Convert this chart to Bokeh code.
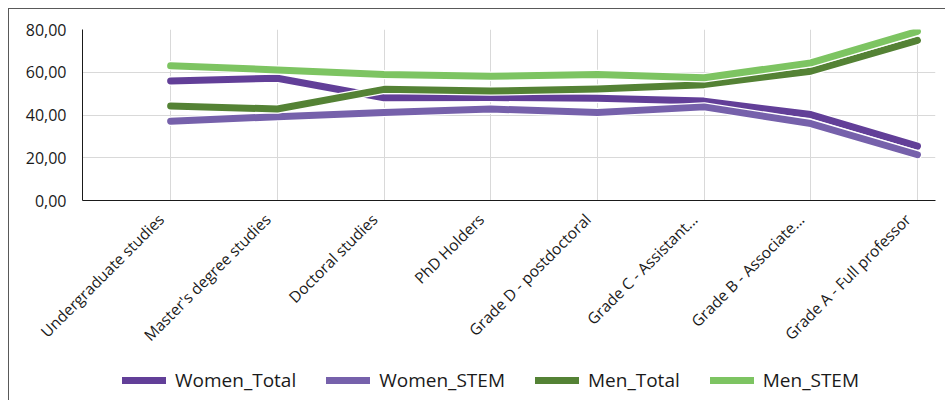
import math
from bokeh.plotting import figure
from bokeh.layouts import column
from bokeh.models import Range1d, FixedTicker, Legend, LegendItem, ColumnDataSource, LinearAxis
from bokeh.embed import file_html
from bokeh.resources import INLINE

# Career stages on the x axis
categories = [
    "Undergraduate studies",
    "Master's degree studies",
    "Doctoral studies",
    "PhD Holders",
    "Grade D - postdoctoral",
    "Grade C - Assistant...",
    "Grade B - Associate...",
    "Grade A - Full professor",
]

# Share (%) per stage
women_total = [55.9, 57.2, 48.1, 48.2, 47.8, 46.5, 40.2, 25.4]
women_stem = [37.1, 39.2, 41.2, 42.8, 41.2, 43.8, 36.0, 21.4]
men_total = [44.2, 42.8, 52.0, 51.2, 52.2, 54.2, 60.5, 74.9]
men_stem = [63.0, 61.1, 59.0, 58.1, 59.0, 57.4, 64.4, 79.1]

y_ticks = [0, 20, 40, 60, 80]
y_tick_labels = ["0,00", "20,00", "40,00", "60,00", "80,00"]

series_names = ["Women_Total", "Women_STEM", "Men_Total", "Men_STEM"]
series_values = [women_total, women_stem, men_total, men_stem]
series_colors = ["#623f98", "#7661ab", "#548235", "#7dc462"]

FONT = "Open Sans"
TEXT = "#1a1a1a"
BORDER = "1px solid #595959"

positions = list(range(len(categories)))
X0, X1 = -0.826, 7.169
LABEL_SHIFT = 0.09  # nudges the slanted labels so their ends sit at the grid lines

# ---- main chart ----
p = figure(
    x_range=Range1d(X0, X1),
    y_range=Range1d(0, 80),
    frame_width=852,
    frame_height=170,
    output_backend="svg",
    toolbar_location=None,
    min_border_left=73,
    min_border_right=12,
    min_border_top=20,
    min_border_bottom=162,
    margin=(8, 0, 0, 8),
)
p.styles = {"border-left": BORDER, "border-top": BORDER}
p.outline_line_color = None
p.background_fill_color = "white"
p.border_fill_color = "white"

p.xgrid.grid_line_color = "#d9d9d9"
p.ygrid.grid_line_color = "#d9d9d9"

p.yaxis.ticker = FixedTicker(ticks=y_ticks)
p.yaxis.major_label_overrides = {t: lab for t, lab in zip(y_ticks, y_tick_labels)}
p.yaxis.major_tick_line_color = None
p.yaxis.minor_tick_line_color = None
p.yaxis.axis_line_color = "#1a1a1a"
p.yaxis.major_label_standoff = 10
p.yaxis.major_label_text_font = FONT
p.yaxis.major_label_text_font_size = "16px"
p.yaxis.major_label_text_color = TEXT

# x axis line and grid positions (labels drawn by the axis below)
xa = p.xaxis[0]
xa.ticker = FixedTicker(ticks=positions)
xa.major_label_overrides = {i: "" for i in positions}
xa.major_label_standoff = 0
xa.major_tick_line_color = None
xa.minor_tick_line_color = None
xa.axis_line_color = "#1a1a1a"

# slanted category labels
p.extra_x_ranges = {"labels": Range1d(X0 + LABEL_SHIFT, X1 + LABEL_SHIFT)}
lab_axis = LinearAxis(
    x_range_name="labels",
    ticker=FixedTicker(ticks=positions),
    major_label_overrides={i: c for i, c in zip(positions, categories)},
    major_label_orientation=math.pi / 4,
    major_label_standoff=4,
    major_tick_line_color=None,
    minor_tick_line_color=None,
    axis_line_color=None,
    major_label_text_font=FONT,
    major_label_text_font_size="15.5px",
    major_label_text_color=TEXT,
)
p.add_layout(lab_axis, "below")

for vals, color in zip(series_values, series_colors):
    src = ColumnDataSource(dict(x=positions, y=vals))
    p.line("x", "y", source=src, line_color="white", line_width=9.5, line_cap="round", line_join="round")
    p.line("x", "y", source=src, line_color=color, line_width=7, line_cap="round", line_join="round")

# ---- legend strip under the chart ----
lg = figure(
    width=937,
    height=40,
    x_range=Range1d(0, 1),
    y_range=Range1d(0, 1),
    output_backend="svg",
    toolbar_location=None,
    min_border=0,
    margin=(0, 0, 0, 8),
)
lg.styles = {"border-left": BORDER}
lg.xaxis.visible = False
lg.yaxis.visible = False
lg.grid.visible = False
lg.outline_line_color = None
lg.border_fill_color = "white"
lg.background_fill_color = "white"

items = []
for name, color in zip(series_names, series_colors):
    # placeholder segment kept outside the visible range; only its legend swatch shows
    r = lg.line(x=[-5, -4], y=[-5, -5], line_color=color, line_width=7, line_cap="round")
    items.append(LegendItem(label=name, renderers=[r]))

legend = Legend(
    items=items,
    orientation="horizontal",
    location=(40, 8),
    label_text_font=FONT,
    label_text_font_size="19px",
    label_text_color=TEXT,
    glyph_width=44,
    glyph_height=20,
    label_standoff=9,
    spacing=30,
    padding=4,
    margin=0,
    border_line_color=None,
    background_fill_alpha=0,
)
lg.add_layout(legend, "center")

layout = column(p, lg, spacing=0)
open("out.html", "w").write(file_html(layout, INLINE))
